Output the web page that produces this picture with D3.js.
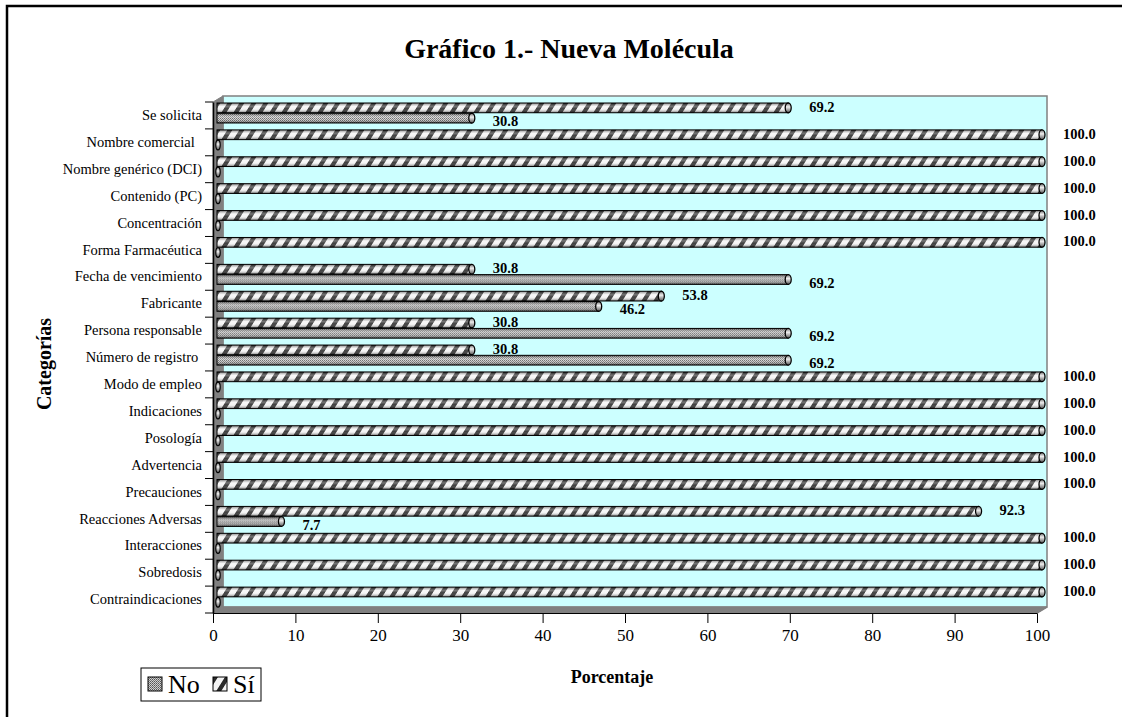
<!DOCTYPE html>
<html>
<head>
<meta charset="utf-8">
<script src="https://cdn.jsdelivr.net/npm/d3@7"></script>
<style>
body { margin: 0; background: #fff; }
svg { display: block; }
text { font-family: "Palatino Linotype", "Book Antiqua", Palatino, "Liberation Serif", serif; fill: #000; }
</style>
</head>
<body>
<div id="chart"></div>
<script>
// Chart data (top category first).
var categories = [
    "Se solicita", "Nombre comercial  ", "Nombre genérico (DCI)", "Contenido (PC)",
    "Concentración", "Forma Farmacéutica", "Fecha de vencimiento", "Fabricante",
    "Persona responsable", "Número de registro ", "Modo de empleo", "Indicaciones",
    "Posología", "Advertencia", "Precauciones", "Reacciones Adversas",
    "Interacciones", "Sobredosis", "Contraindicaciones"
];
var siValues = [69.2, 100, 100, 100, 100, 100, 30.8, 53.8, 30.8, 30.8, 100, 100, 100, 100, 100, 92.3, 100, 100, 100];
var noValues = [30.8, 0, 0, 0, 0, 0, 69.2, 46.2, 69.2, 69.2, 0, 0, 0, 0, 0, 7.7, 0, 0, 0];
var seriesNames = ["No", "Sí"];
var xTicks = [0, 10, 20, 30, 40, 50, 60, 70, 80, 90, 100];

var w = 1122,
    h = 717,
    depth = 10,     // 3D wall depth, x
    lift = 6,       // 3D wall depth, y
    serif = "'Palatino Linotype', 'Book Antiqua', Palatino, 'Liberation Serif', serif";

var svg = d3.select("#chart").append("svg")
    .attr("width", w)
    .attr("height", h);

var defs = svg.append("defs");

// Striped pattern for "Sí".
var siPat = defs.append("pattern")
    .attr("id", "siPat")
    .attr("patternUnits", "userSpaceOnUse")
    .attr("width", 12)
    .attr("height", 12)
    .attr("patternTransform", "skewX(-32)");
siPat.append("rect").attr("width", 12).attr("height", 12).attr("fill", "#f4f4f4");
siPat.append("rect").attr("width", 5).attr("height", 12).attr("fill", "#2a2a2a");

// Fine dotted pattern for "No".
var noPat = defs.append("pattern")
    .attr("id", "noPat")
    .attr("patternUnits", "userSpaceOnUse")
    .attr("width", 2)
    .attr("height", 2);
noPat.append("rect").attr("width", 2).attr("height", 2).attr("fill", "#d0d0d0");
noPat.append("rect").attr("width", 1).attr("height", 1).attr("fill", "#555");
noPat.append("rect").attr("x", 1).attr("y", 1).attr("width", 1).attr("height", 1).attr("fill", "#777");

// Cylinder shading laid over the patterns.
var shade = defs.append("linearGradient")
    .attr("id", "shade")
    .attr("x1", 0).attr("y1", 0).attr("x2", 0).attr("y2", 1);
shade.append("stop").attr("offset", "0%").attr("stop-color", "#000").attr("stop-opacity", 0.45);
shade.append("stop").attr("offset", "35%").attr("stop-color", "#fff").attr("stop-opacity", 0.35);
shade.append("stop").attr("offset", "60%").attr("stop-color", "#fff").attr("stop-opacity", 0.1);
shade.append("stop").attr("offset", "100%").attr("stop-color", "#000").attr("stop-opacity", 0.55);

var capGrad = defs.append("linearGradient")
    .attr("id", "capGrad")
    .attr("x1", 0).attr("y1", 0).attr("x2", 0).attr("y2", 1);
capGrad.append("stop").attr("offset", "0%").attr("stop-color", "#777");
capGrad.append("stop").attr("offset", "40%").attr("stop-color", "#eee");
capGrad.append("stop").attr("offset", "100%").attr("stop-color", "#555");

// Outer frame.
svg.append("rect")
    .attr("x", 7).attr("y", 6)
    .attr("width", w + 10).attr("height", h + 10)
    .attr("fill", "none")
    .attr("stroke", "#000")
    .attr("stroke-width", 2.5);

// Scales.
var x = d3.scaleLinear().domain([0, 100]).range([213, 1037]);
var y = d3.scaleBand().domain(categories).range([102, 613]);
var inner = d3.scaleBand().domain(["Sí", "No"]).range([1, 21]).paddingInner(0.05);

var x0 = x.range()[0], x1 = x.range()[1],
    y0 = y.range()[0], y1 = y.range()[1];

// Walls: back, left side, floor.
svg.append("rect")
    .attr("x", x0 + depth).attr("y", y0 - lift)
    .attr("width", x1 - x0).attr("height", y1 - y0)
    .attr("fill", "#ccffff")
    .attr("stroke", "#808080")
    .attr("stroke-width", 1.5);

svg.append("path")
    .attr("d", "M" + x0 + "," + y0 + "L" + (x0 + depth) + "," + (y0 - lift) +
        "L" + (x0 + depth) + "," + (y1 - lift) + "L" + x0 + "," + y1 + "Z")
    .attr("fill", "#808080")
    .attr("stroke", "#808080");

svg.append("path")
    .attr("d", "M" + x0 + "," + y1 + "L" + (x0 + depth) + "," + (y1 - lift) +
        "L" + (x1 + depth) + "," + (y1 - lift) + "L" + x1 + "," + y1 + "Z")
    .attr("fill", "#808080")
    .attr("stroke", "#808080");

// Bars.
var rows = categories.map(function (c, i) {
    return { cat: c, values: [{ s: "Sí", v: siValues[i] }, { s: "No", v: noValues[i] }] };
});

var bx = function (v) { return x(v) + 5; };
var bStart = x(0) + 4;

var groups = svg.append("g").selectAll("g.row")
    .data(rows)
    .enter()
    .append("g")
    .attr("class", "row")
    .attr("transform", function (d) { return "translate(0," + y(d.cat) + ")"; });

groups.each(function (d) {
    var g = d3.select(this);
    d.values.forEach(function (b) {
        var by = inner(b.s),
            bh = inner.bandwidth(),
            cy = by + bh / 2;
        if (b.v > 0) {
            g.append("rect")
                .attr("x", bStart).attr("y", by)
                .attr("width", bx(b.v) - bStart).attr("height", bh)
                .attr("fill", b.s === "Sí" ? "url(#siPat)" : "url(#noPat)");
            g.append("rect")
                .attr("x", bStart).attr("y", by)
                .attr("width", bx(b.v) - bStart).attr("height", bh)
                .attr("fill", "url(#shade)")
                .attr("stroke", "#000")
                .attr("stroke-width", 1);
            g.append("ellipse")
                .attr("cx", bx(b.v)).attr("cy", cy)
                .attr("rx", 3).attr("ry", bh / 2)
                .attr("fill", "url(#capGrad)")
                .attr("stroke", "#000")
                .attr("stroke-width", 1.3);
            g.append("text")
                .attr("x", bx(b.v) + 21)
                .attr("y", b.s === "Sí" ? cy - 1 : cy + 3)
                .attr("dy", "0.35em")
                .attr("font-size", "14.5px")
                .attr("font-weight", "bold")
                .text(b.v.toFixed(1));
        } else {
            g.append("ellipse")
                .attr("cx", bStart + 1).attr("cy", cy)
                .attr("rx", 2.2).attr("ry", bh / 2)
                .attr("fill", "url(#capGrad)")
                .attr("stroke", "#000")
                .attr("stroke-width", 1.2);
        }
    });
});

// Category axis.
var yAxis = svg.append("g")
    .attr("transform", "translate(" + x0 + ",0)")
    .call(d3.axisLeft(y).tickSize(0).tickPadding(11));
yAxis.select(".domain").attr("stroke", "#000").attr("stroke-width", 1.5);
yAxis.selectAll("text")
    .attr("font-size", "14.5px")
    .attr("font-family", serif)
    .style("white-space", "pre");

var bounds = categories.map(function (c) { return y(c); }).concat([y1]);
svg.append("g").selectAll("line")
    .data(bounds)
    .enter()
    .append("line")
    .attr("x1", x0 - 8).attr("x2", x0)
    .attr("y1", function (d) { return d; })
    .attr("y2", function (d) { return d; })
    .attr("stroke", "#000");

// Value axis.
var xAxis = svg.append("g")
    .attr("transform", "translate(0," + y1 + ")")
    .call(d3.axisBottom(x).tickValues(xTicks).tickSize(10).tickSizeOuter(0).tickPadding(6));
xAxis.select(".domain").attr("stroke", "#000").attr("stroke-width", 1.2);
xAxis.selectAll("text")
    .attr("font-size", "17px")
    .attr("font-family", serif);

svg.append("line")
    .attr("x1", x1).attr("y1", y1)
    .attr("x2", x1 + depth).attr("y2", y1 - lift)
    .attr("stroke", "#808080")
    .attr("stroke-width", 1.5);

// Titles.
svg.append("text")
    .attr("x", 569).attr("y", 58)
    .attr("text-anchor", "middle")
    .attr("font-size", "28px")
    .attr("font-weight", "bold")
    .text("Gráfico 1.- Nueva Molécula");

svg.append("text")
    .attr("transform", "translate(51,364) rotate(-90)")
    .attr("text-anchor", "middle")
    .attr("font-size", "20px")
    .attr("font-weight", "bold")
    .text("Categorías");

svg.append("text")
    .attr("x", 612).attr("y", 683)
    .attr("text-anchor", "middle")
    .attr("font-size", "18px")
    .attr("font-weight", "bold")
    .text("Porcentaje");

// Legend.
var legend = svg.append("g");
legend.append("rect")
    .attr("x", 141).attr("y", 668)
    .attr("width", 120).attr("height", 33)
    .attr("fill", "#fff")
    .attr("stroke", "#000")
    .attr("stroke-width", 1);

var legendItems = legend.selectAll("g.item")
    .data(seriesNames)
    .enter()
    .append("g")
    .attr("class", "item")
    .attr("transform", function (d, i) { return "translate(" + (148 + i * 65) + ",677)"; });

legendItems.append("rect")
    .attr("width", 14).attr("height", 14)
    .attr("fill", function (d) { return d === "Sí" ? "url(#siPat)" : "url(#noPat)"; })
    .attr("stroke", "#000");

legendItems.append("text")
    .attr("x", 20).attr("y", 16)
    .attr("font-size", "26px")
    .text(function (d) { return d; });
</script>
</body>
</html>
